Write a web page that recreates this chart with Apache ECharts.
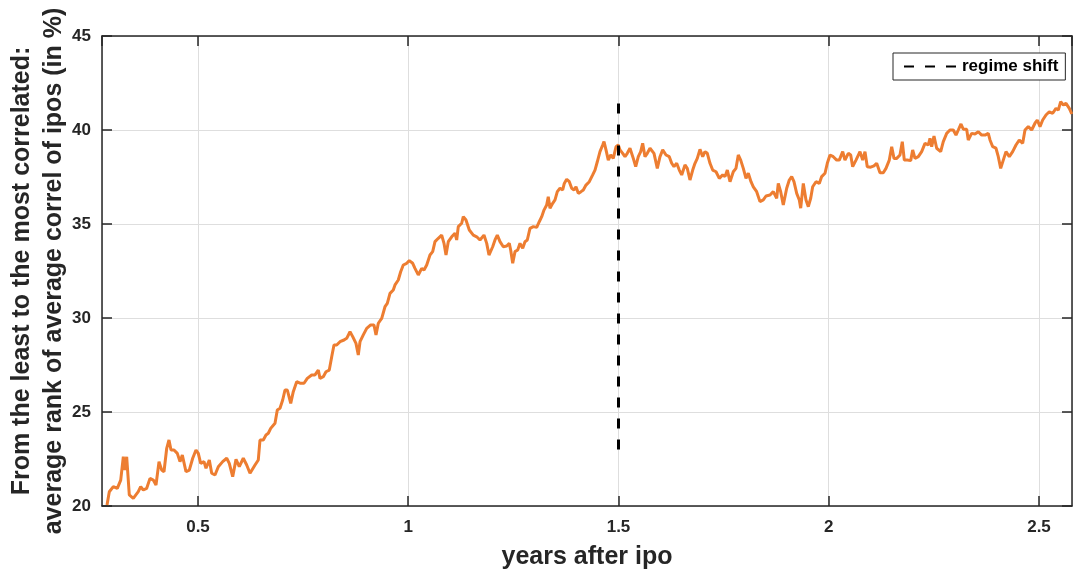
<!DOCTYPE html>
<html>
<head>
<meta charset="utf-8">
<script src="https://cdn.jsdelivr.net/npm/echarts@6/dist/echarts.min.js"></script>
<style>
html,body{margin:0;padding:0;background:#fff;}
#chart{width:1074px;height:572px;}
</style>
</head>
<body>
<div id="chart"></div>
<script>
// Average rank (in %) vs years after ipo
const rankEarly = [
[0.2836,20.05],[0.2891,20.76],[0.2986,21.03],[0.3081,20.94],[0.3162,21.38],[0.3224,22.62],[0.3264,21.91],[0.3304,22.62],
[0.3366,20.59],[0.3461,20.41],[0.3580,20.76],[0.3637,21.03],[0.3699,20.85],[0.3780,20.94],[0.3859,21.47],[0.3937,21.38],
[0.4001,21.12],[0.4073,22.36],[0.4137,21.91],[0.4191,21.82],[0.4256,23.07],[0.4310,23.51],[0.4358,22.98],[0.4429,22.98],
[0.4508,22.80],[0.4572,22.36],[0.4627,22.71],[0.4715,21.82],[0.4793,21.91],[0.4874,22.54],[0.4952,22.98],[0.5007,22.80],
[0.5064,22.27],[0.5143,22.36],[0.5190,22.01],[0.5269,22.45],[0.5326,21.74],[0.5404,21.65],[0.5483,22.09],[0.5587,22.36],
[0.5683,22.54],[0.5744,22.27],[0.5825,21.56],[0.5904,22.48],[0.5982,22.09],[0.6077,22.54],[0.6158,22.18],[0.6237,21.74],
[0.6356,22.18],[0.6434,22.45],[0.6474,23.51],[0.6553,23.51],[0.6617,23.78],[0.6672,23.87],[0.6729,24.13],[0.6776,24.04],
[0.6831,24.40],[0.6886,25.11],[0.6950,25.20],[0.7014,25.64],[0.7069,26.17],[0.7124,26.17],[0.7205,25.46],[0.7266,26.08],
[0.7347,26.61],[0.7426,26.53]
];
const rankRise = [
[0.7521,26.53],[0.7599,26.79],[0.7704,26.97],[0.7782,26.97],[0.7861,27.23],[0.7901,26.79],[0.7980,26.88],[0.8044,27.14],
[0.8122,27.23],[0.8180,27.94],[0.8234,28.56],[0.8298,28.56],[0.8377,28.74],[0.8472,28.83],[0.8536,28.92],[0.8615,29.27],
[0.8679,29.01],[0.8757,28.65],[0.8812,28.03],[0.8853,28.74],[0.8931,29.10],[0.9012,29.45],[0.9107,29.63],[0.9185,29.63],
[0.9233,29.10],[0.9288,29.72],[0.9369,29.98],[0.9447,30.60],[0.9502,30.78],[0.9566,31.31],[0.9644,31.49],[0.9685,31.76],
[0.9763,32.02],[0.9820,32.46],[0.9882,32.82],[0.9963,32.91],[1.0025,33.05],[1.0106,32.91],[1.0160,32.64],[1.0239,32.29],
[1.0320,32.64],[1.0375,32.55],[1.0439,32.82],[1.0517,33.35],[1.0581,33.53],[1.0636,34.06],[1.0715,34.24],[1.0795,34.41],
[1.0850,33.97],[1.0898,33.35],[1.0952,34.06],[1.1033,34.32],[1.1112,34.51],[1.1152,34.15],[1.1190,34.86],[1.1271,35.04],
[1.1309,35.39],[1.1373,35.21],[1.1452,34.68],[1.1547,34.41],[1.1628,34.32],[1.1706,34.15]
];
const rankMid = [
[1.1801,34.41],[1.1866,33.97],[1.1920,33.35],[1.2008,33.79],[1.2063,34.15],[1.2118,34.41],[1.2182,34.06],[1.2260,33.79],
[1.2341,33.83],[1.2403,33.97],[1.2436,33.62],[1.2484,32.91],[1.2539,33.53],[1.2603,33.62],[1.2658,33.97],[1.2722,33.71],
[1.2776,34.06],[1.2831,34.15],[1.2895,34.77],[1.2974,34.86],[1.3055,34.82],[1.3116,35.12],[1.3174,35.39],[1.3228,35.74],
[1.3292,36.01],[1.3330,36.45],[1.3371,35.84],[1.3435,36.10],[1.3490,36.28],[1.3545,36.72],[1.3609,36.90],[1.3673,36.81],
[1.3711,37.16],[1.3768,37.38],[1.3830,37.25],[1.3887,36.90],[1.3942,36.81],[1.3989,36.98],[1.4044,36.63],[1.4108,36.72],
[1.4163,36.81],[1.4227,37.07],[1.4306,37.25],[1.4386,37.61],[1.4441,37.87],[1.4496,38.31],[1.4560,38.85],[1.4624,39.20],
[1.4655,39.38],[1.4703,38.94],[1.4757,38.40],[1.4815,38.67],[1.4876,38.49],[1.4941,39.11],[1.4995,39.20],[1.5036,38.94],
[1.5100,38.76],[1.5155,38.58],[1.5209,38.76],[1.5273,39.03],[1.5352,38.49],[1.5409,38.05],[1.5471,38.58],[1.5528,38.85],
[1.5575,39.29],[1.5630,38.58],[1.5685,38.76],[1.5749,39.03]
];
const rankPlateau = [
[1.5790,38.97],[1.5844,38.76],[1.5923,37.96],[1.5987,38.58],[1.6051,38.94],[1.6130,38.67],[1.6208,38.58],[1.6265,38.23],
[1.6320,38.05],[1.6384,38.23],[1.6446,37.87],[1.6503,37.61],[1.6581,38.14],[1.6636,37.96],[1.6700,37.34],[1.6765,37.87],
[1.6819,38.23],[1.6874,38.49],[1.6938,38.97],[1.7002,38.58],[1.7057,38.85],[1.7112,38.76],[1.7176,38.23],[1.7240,37.87],
[1.7319,37.78],[1.7397,37.43],[1.7478,37.61],[1.7533,37.52],[1.7588,37.87],[1.7652,37.25],[1.7730,37.78],[1.7794,37.96],
[1.7849,38.67],[1.7906,38.40],[1.7968,37.96],[1.8032,37.43],[1.8087,37.70],[1.8151,37.25],[1.8206,36.98],[1.8286,36.72],
[1.8365,36.19],[1.8443,36.28],[1.8508,36.49],[1.8603,36.54],[1.8681,36.72],[1.8762,36.37],[1.8800,37.16],[1.8857,36.72],
[1.8919,36.01],[1.9000,36.90],[1.9062,37.34],[1.9119,37.52],[1.9173,37.25],[1.9238,36.63],[1.9300,36.28],[1.9333,35.84],
[1.9395,37.16],[1.9459,36.28],[1.9514,35.92],[1.9571,36.37],[1.9618,36.98],[1.9697,37.25],[1.9775,37.16],[1.9832,37.52],
[1.9911,37.70],[1.9966,38.23],[2.0030,38.67],[2.0108,38.58],[2.0189,38.40],[2.0251,38.40],[2.0332,38.85],[2.0386,38.40],
[2.0465,38.76],[2.0522,38.67],[2.0569,38.05],[2.0648,38.40]
];
const rankLate = [
[2.0743,38.85],[2.0807,38.40],[2.0862,38.85],[2.0916,38.05],[2.0997,38.02],[2.1076,38.09],[2.1140,38.23],[2.1219,37.73],
[2.1297,37.73],[2.1361,37.96],[2.1440,38.40],[2.1497,39.11],[2.1552,38.49],[2.1616,38.49],[2.1694,38.67],[2.1749,39.38],
[2.1797,38.40],[2.1868,38.40],[2.1949,38.37],[2.1996,38.94],[2.2051,38.49],[2.2130,38.58],[2.2210,38.85],[2.2289,39.29],
[2.2367,39.20],[2.2408,39.56],[2.2448,39.11],[2.2503,39.68],[2.2567,39.03],[2.2662,38.85],[2.2724,39.38],[2.2805,39.82],
[2.2883,40.00],[2.2962,40.00],[2.3026,39.73],[2.3081,40.00],[2.3145,40.32],[2.3200,40.04],[2.3280,40.04],[2.3318,39.47],
[2.3399,39.82],[2.3478,39.79],[2.3557,39.91],[2.3637,39.73],[2.3716,39.73],[2.3794,39.82],[2.3835,39.47],[2.3899,39.11],
[2.3977,39.03],[2.4032,38.58],[2.4089,37.96],[2.4151,38.40],[2.4215,38.85],[2.4294,38.58],[2.4374,38.85],[2.4453,39.20],
[2.4531,39.47],[2.4612,39.29],[2.4667,40.00],[2.4746,40.18],[2.4826,40.00],[2.4905,40.36],[2.4959,40.53],[2.5024,40.18],
[2.5088,40.53],[2.5166,40.80],[2.5245,40.97],[2.5326,40.89],[2.5404,41.15],[2.5459,41.06],[2.5516,41.51],[2.5578,41.33],
[2.5642,41.42],[2.5721,41.15],[2.5780,40.85]
];
const regimeShift = [[1.5, 23.0], [1.5, 41.6]];
const xRange = [0.2717, 2.5785];
const yRange = [20, 45];
const yStep = 5;
const xStep = 0.5;

const rankSeries = rankEarly.concat(rankRise, rankMid, rankPlateau, rankLate);

const FONT = '"Liberation Sans", Arial, Helvetica, sans-serif';
const AX = '#262626';
const chart = echarts.init(document.getElementById('chart'), null, {renderer: 'canvas'});

const axisLineStyle = {lineStyle: {color: AX, width: 1.5}};
const tickStyle = {show: true, inside: true, length: 10, lineStyle: {color: AX, width: 1.5}};
const labelStyle = {color: AX, fontSize: 17, fontWeight: 'bold', fontFamily: FONT};

chart.setOption({
  animation: false,
  backgroundColor: '#fff',
  grid: {left: 102, right: 2, top: 36, bottom: 66, containLabel: false, outerBoundsMode: 'none'},
  legend: {
    data: [{name: 'regime shift', itemStyle: {opacity: 0}}],
    left: 893, top: 53,
    itemWidth: 53, itemHeight: 14,
    padding: [4, 7, 4, 10],
    borderColor: AX, borderWidth: 1, backgroundColor: '#fff',
    textStyle: {fontSize: 17, fontWeight: 'bold', color: '#000', fontFamily: FONT, lineHeight: 19}
  },
  xAxis: [{
    type: 'value', min: xRange[0], max: xRange[1],
    minInterval: xStep, maxInterval: xStep,
    axisLine: axisLineStyle, axisTick: tickStyle,
    axisLabel: Object.assign({showMinLabel: false, showMaxLabel: false, margin: 13}, labelStyle),
    splitLine: {show: true, lineStyle: {color: '#dedede', width: 1}},
    name: 'years after ipo', nameLocation: 'middle', nameGap: 39,
    nameTextStyle: {color: AX, fontSize: 25, fontWeight: 'bold', fontFamily: FONT}
  }, {
    type: 'value', position: 'top', min: xRange[0], max: xRange[1],
    minInterval: xStep, maxInterval: xStep,
    axisLine: axisLineStyle, axisTick: tickStyle,
    axisLabel: {show: false}, splitLine: {show: false}
  }],
  yAxis: [{
    type: 'value', min: yRange[0], max: yRange[1], interval: yStep,
    axisLine: Object.assign({show: true}, axisLineStyle), axisTick: tickStyle,
    axisLabel: Object.assign({margin: 11}, labelStyle),
    splitLine: {show: true, lineStyle: {color: '#dedede', width: 1}}
  }, {
    type: 'value', position: 'right', min: yRange[0], max: yRange[1], interval: yStep,
    axisLine: Object.assign({show: true}, axisLineStyle), axisTick: tickStyle,
    axisLabel: {show: false}, splitLine: {show: false}
  }],
  graphic: [{
    type: 'text', x: 22, y: 271, rotation: Math.PI / 2,
    style: {text: 'From the least to the most correlated:', font: 'bold 25px ' + FONT, fill: AX, align: 'center', verticalAlign: 'middle'}
  }, {
    type: 'text', x: 54, y: 271, rotation: Math.PI / 2,
    style: {text: 'average rank of average correl of ipos (in %)', font: 'bold 25px ' + FONT, fill: AX, align: 'center', verticalAlign: 'middle'}
  }],
  series: [{
    type: 'line', name: 'rank', data: rankSeries,
    xAxisIndex: 0, yAxisIndex: 0,
    showSymbol: false, symbol: 'none',
    lineStyle: {color: '#ED7D31', width: 3},
    z: 2
  }, {
    type: 'line', name: 'regime shift', data: regimeShift,
    xAxisIndex: 0, yAxisIndex: 0,
    showSymbol: false, symbol: 'none',
    itemStyle: {color: '#000'},
    lineStyle: {color: '#000', width: 3, type: [10, 11]},
    z: 3
  }]
});
</script>
</body>
</html>
